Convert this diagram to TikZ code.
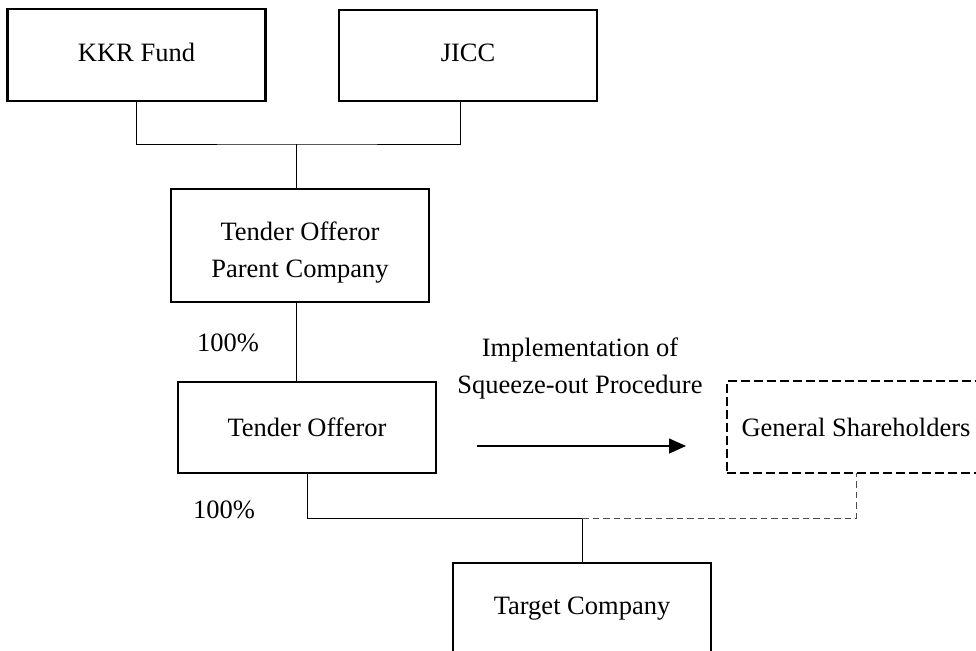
\documentclass[tikz,border=0pt]{standalone}
\usepackage{fontspec}
\setmainfont{Liberation Serif}
\usetikzlibrary{arrows.meta}
\begin{document}
\begin{tikzpicture}[x=1pt,y=-1pt,
  every node/.style={font=\fontsize{26.5}{37}\selectfont},
  entity/.style={draw, line width=2.5pt, minimum width=258pt, inner sep=0pt, outer sep=0pt, align=center},
  dashbox/.style={entity, dash pattern=on 9pt off 4pt},
  link/.style={line width=1pt},
  dlink/.style={line width=1pt, draw=black!70, dash pattern=on 6.5pt off 4pt},
  lbl/.style={inner sep=0pt, align=center}]
\clip (0,0) rectangle (976,650);
\fill[white] (0,0) rectangle (976,650);
\node[entity, minimum height=92pt] (kkr) at (136.5,55) {KKR Fund\rule[-6pt]{0pt}{0pt}};
\node[entity, minimum height=91pt] (jicc) at (468,55.5) {JICC\rule[-6pt]{0pt}{0pt}};
\node[entity, minimum height=113pt] (topc) at (300,245.5) {\rule{0pt}{32pt}Tender Offeror\\Parent Company};
\node[entity, minimum height=91pt] (to) at (307,427.5) {Tender Offeror};
\node[dashbox, minimum height=92pt] (gs) at (856,427) {General Shareholders};
\node[entity, minimum height=92pt] (tc) at (582,609) {Target Company};
\node[lbl] (p1) at (228,343) {100\%};
\node[lbl] (p2) at (224,510) {100\%};
\node[lbl] (impl) at (580,368) {Implementation of\\Squeeze-out Procedure};
\coordinate (j1) at (296,144);
\coordinate (j2) at (582,518);
\coordinate (a1) at (477,446);
\coordinate (a2) at (686,446);
\draw[link] (kkr.south) |- (j1) -| ([xshift=-8pt]jicc.south);
\draw[link] (j1) -- (j1 |- topc.north);
\draw[link] ([xshift=-4pt]topc.south) -- ([xshift=-4pt]topc.south |- to.north);
\draw[link] (to.south) |- (j2);
\draw[link] (j2) -- (tc.north);
\draw[dlink] (j2) -| (gs.south);
\draw[line width=1.2pt, -{Triangle[length=17pt,width=15pt]}] (a1) -- (a2);
\end{tikzpicture}
\end{document}
